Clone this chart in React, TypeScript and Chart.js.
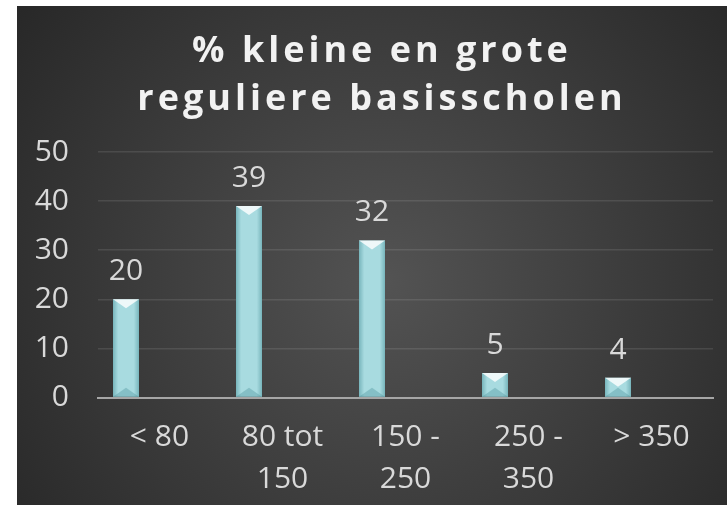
import React, { useEffect, useRef } from "react";
import { Chart, registerables } from "chart.js";

Chart.register(...registerables);

const categories: string[][] = [["< 80"], ["80 tot", "150"], ["150 -", "250"], ["250 -", "350"], ["> 350"]];
const percentages: number[] = [20, 39, 32, 5, 4];
const emptySeriesA: (number | null)[] = [null, null, null, null, null];
const emptySeriesB: (number | null)[] = [null, null, null, null, null];
const titleLines: string[] = ["% kleine en grote", "reguliere basisscholen"];
const yTicks = { min: 0, max: 50, step: 10 };

const FONT = "'Open Sans', 'Noto Sans', sans-serif";
const TEXT = "#d9d9d9";

const bgPlugin = {
  id: "bgGradient",
  beforeDraw(chart: any) {
    const { ctx, width, height } = chart;
    ctx.save();
    const g = ctx.createRadialGradient(width * 0.52, height * 0.55, 0, width * 0.52, height * 0.55, Math.hypot(width, height) * 0.55);
    g.addColorStop(0, "#535353");
    g.addColorStop(1, "#262626");
    ctx.fillStyle = g;
    ctx.fillRect(0, 0, width, height);
    ctx.restore();
  },
};

const titlePlugin = {
  id: "spacedTitle",
  afterDraw(chart: any) {
    const { ctx } = chart;
    ctx.save();
    const ls = 4;
    ctx.font = `bold 36px ${FONT}`;
    (ctx as any).letterSpacing = `${ls}px`;
    ctx.fillStyle = "#f2f2f2";
    ctx.textAlign = "center";
    ctx.textBaseline = "alphabetic";
    const cx = 363 + ls / 2;
    titleLines.forEach((line, i) => {
      ctx.fillText(line, cx, 56 + i * 48);
    });
    ctx.restore();
  },
};

const barStylePlugin = {
  id: "barStyle",
  afterDatasetsDraw(chart: any) {
    const { ctx } = chart;
    const meta = chart.getDatasetMeta(0);
    const ds = chart.data.datasets[0];
    ctx.save();
    meta.data.forEach((bar: any, i: number) => {
      const v = ds.data[i];
      if (v == null) return;
      const { x, y, base, width } = bar.getProps(["x", "y", "base", "width"], true);
      const l = x - width / 2;
      const r = x + width / 2;
      const h = base - y;
      const g = ctx.createLinearGradient(l, 0, r, 0);
      g.addColorStop(0, "rgba(80,150,158,0.55)");
      g.addColorStop(0.2, "rgba(80,150,158,0)");
      g.addColorStop(0.8, "rgba(80,150,158,0)");
      g.addColorStop(1, "rgba(80,150,158,0.55)");
      ctx.fillStyle = g;
      ctx.fillRect(l, y, width, h);
      const d = Math.min(width / 2, h / 2, 9);
      ctx.beginPath();
      ctx.moveTo(l, y);
      ctx.lineTo(r, y);
      ctx.lineTo(x, y + d);
      ctx.closePath();
      ctx.fillStyle = "rgba(255,255,255,0.8)";
      ctx.fill();
      ctx.beginPath();
      ctx.moveTo(l, base);
      ctx.lineTo(r, base);
      ctx.lineTo(x, base - d);
      ctx.closePath();
      ctx.fillStyle = "rgba(70,140,150,0.35)";
      ctx.fill();
      ctx.fillStyle = TEXT;
      ctx.font = `30px ${FONT}`;
      ctx.textAlign = "center";
      ctx.textBaseline = "alphabetic";
      ctx.fillText(String(v), x, y - 19);
    });
    ctx.restore();
  },
};

export default function App() {
  const ref = useRef<HTMLCanvasElement | null>(null);

  useEffect(() => {
    document.body.style.margin = "0";
    if (!ref.current) return;
    const chart = new Chart(ref.current, {
      type: "bar",
      data: {
        labels: categories,
        datasets: [
          { label: "% scholen", data: percentages, backgroundColor: "#a8dbe0", categoryPercentage: 0.817, barPercentage: 0.776 },
          { label: "B", data: emptySeriesA, backgroundColor: "#a8dbe0", categoryPercentage: 0.817, barPercentage: 0.776 },
          { label: "C", data: emptySeriesB, backgroundColor: "#a8dbe0", categoryPercentage: 0.817, barPercentage: 0.776 },
        ],
      },
      options: {
        responsive: false,
        animation: false,
        layout: { padding: { left: 0, right: 14, top: 146, bottom: 0 } },
        plugins: {
          legend: { display: false },
          tooltip: { enabled: false },
          title: { display: false },
        },
        scales: {
          x: {
            grid: { display: false, drawTicks: false },
            border: { display: true, color: "#a6a6a6", width: 2 },
            ticks: { color: TEXT, font: { family: FONT, size: 30, lineHeight: 42 / 30 }, padding: 19, maxRotation: 0, autoSkip: false },
            afterFit(scale: any) {
              scale.height = 107.5;
            },
          },
          y: {
            min: yTicks.min,
            max: yTicks.max,
            grid: { color: "rgba(255,255,255,0.1)", lineWidth: 1.5, drawTicks: false },
            border: { display: false },
            ticks: { stepSize: yTicks.step, color: TEXT, font: { family: FONT, size: 30 }, padding: 29 },
            afterFit(scale: any) {
              scale.width = 81;
            },
          },
        },
      },
      plugins: [bgPlugin, barStylePlugin, titlePlugin],
    });
    return () => chart.destroy();
  }, []);

  return (
    <div style={{ position: "relative", width: 727, height: 505, background: "#ffffff", overflow: "hidden" }}>
      <canvas ref={ref} width={710} height={499} style={{ position: "absolute", left: 17, top: 6, width: 710, height: 499 }} />
    </div>
  );
}
